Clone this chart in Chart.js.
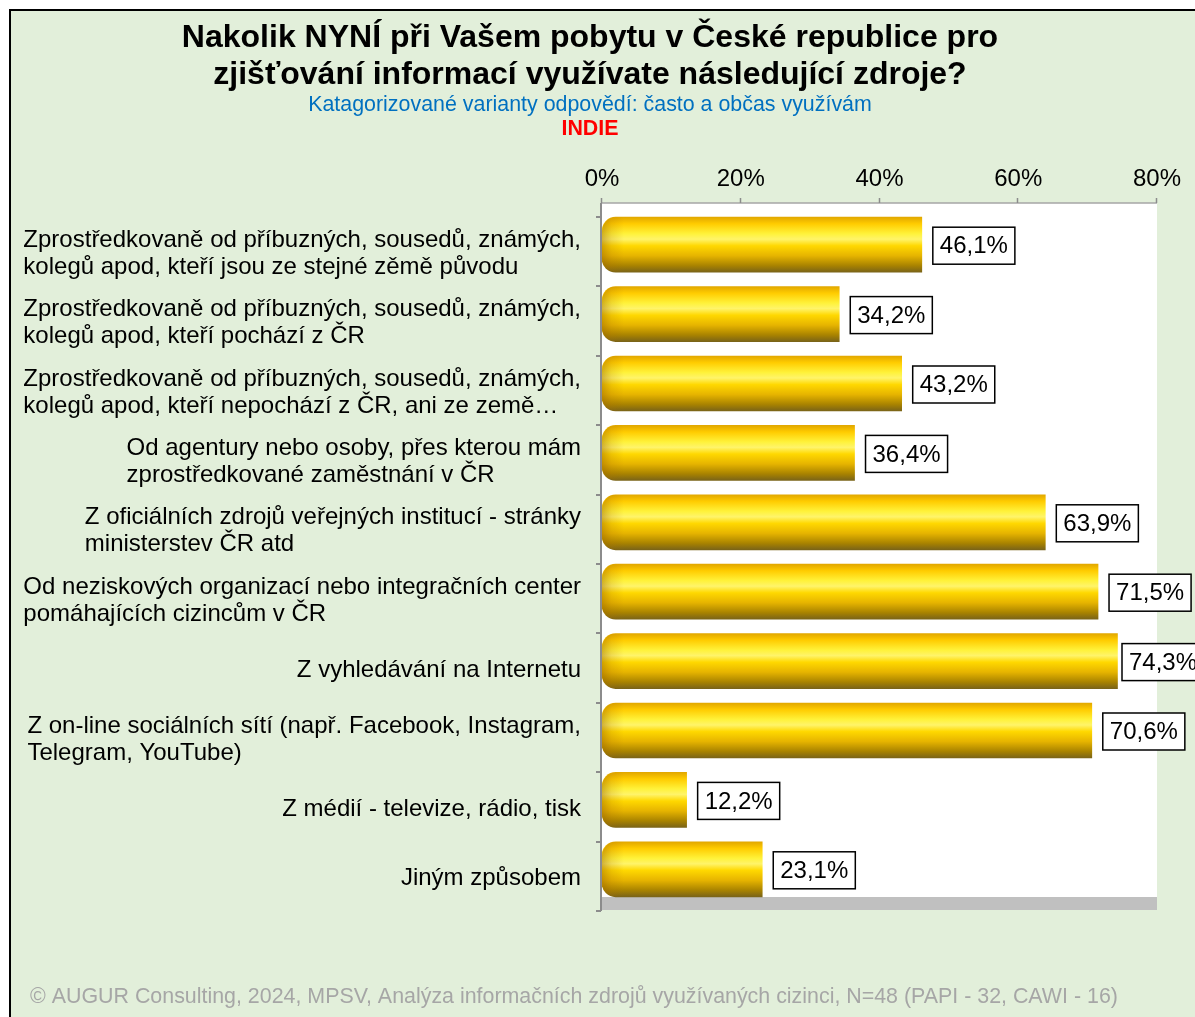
<!DOCTYPE html>
<html>
<head>
<meta charset="utf-8">
<script src="https://cdn.jsdelivr.net/npm/chart.js@4.4.1/dist/chart.umd.min.js"></script>
<style>
  html, body { margin: 0; padding: 0; background: #ffffff; }
  canvas { display: block; }
</style>
</head>
<body>
<canvas id="chart" width="1195" height="1017"></canvas>
<script>
// Source categories (wrapped into lines as printed on the axis)
const categories = [
  ["Zprostředkovaně od příbuzných, sousedů, známých,", "kolegů apod, kteří jsou ze stejné zěmě původu"],
  ["Zprostředkovaně od příbuzných, sousedů, známých,", "kolegů apod, kteří pochází z ČR"],
  ["Zprostředkovaně od příbuzných, sousedů, známých,", "kolegů apod, kteří nepochází z ČR, ani ze země…"],
  ["Od agentury nebo osoby, přes kterou mám", "zprostředkované zaměstnání v ČR"],
  ["Z oficiálních zdrojů veřejných institucí - stránky", "ministerstev ČR atd"],
  ["Od neziskových organizací nebo integračních center", "pomáhajících cizincům v ČR"],
  ["Z vyhledávání na Internetu"],
  ["Z on-line sociálních sítí (např. Facebook, Instagram,", "Telegram, YouTube)"],
  ["Z médií - televize, rádio, tisk"],
  ["Jiným způsobem"]
];

// Share of respondents using each source often or sometimes (%)
const values = [46.1, 34.2, 43.2, 36.4, 63.9, 71.5, 74.3, 70.6, 12.2, 23.1];

// Percentage axis
const tickValues = [0, 20, 40, 60, 80];
const tickLabels = ["0%", "20%", "40%", "60%", "80%"];

// Texts
const titleLines = [
  "Nakolik NYNÍ při Vašem pobytu v České republice pro",
  "zjišťování informací využívate následující zdroje?"
];
const subtitleText = "Katagorizované varianty odpovědí: často a občas využívám";
const countryText = "INDIE";
const footerText = "© AUGUR Consulting, 2024, MPSV, Analýza informačních zdrojů využívaných cizinci, N=48 (PAPI - 32, CAWI - 16)";

const FONT = "Arial, 'Liberation Sans', Helvetica, sans-serif";
const fmt = v => v.toFixed(1).replace('.', ',') + '%';

// Golden cylinder shading across the bar height
function barGradient(ctx, top, bottom) {
  const g = ctx.createLinearGradient(0, top, 0, bottom);
  g.addColorStop(0.00, '#E2A800');
  g.addColorStop(0.12, '#FFCC00');
  g.addColorStop(0.30, '#FFF23A');
  g.addColorStop(0.40, '#FFF46A');
  g.addColorStop(0.52, '#FFD800');
  g.addColorStop(0.70, '#E6B400');
  g.addColorStop(0.88, '#A98300');
  g.addColorStop(1.00, '#7A6418');
  return g;
}

// Frame, plot wall, floor and axis lines
const backdrop = {
  id: 'backdrop',
  beforeDraw(chart) {
    const { ctx, chartArea: a, scales } = chart;
    const W = chart.width, H = chart.height;
    ctx.save();
    ctx.fillStyle = '#ffffff';
    ctx.fillRect(0, 0, W, H);
    ctx.fillStyle = '#E2EFDA';
    ctx.fillRect(10, 10, W - 10, H - 10);
    ctx.strokeStyle = '#000000';
    ctx.lineWidth = 2;
    ctx.beginPath();
    ctx.moveTo(10, H);
    ctx.lineTo(10, 10);
    ctx.lineTo(W, 10);
    ctx.stroke();

    const x0 = scales.x.getPixelForValue(0);
    const x1 = scales.x.getPixelForValue(80);
    const wallTop = a.top - 7;
    const floorTop = a.bottom - 7;
    const floorBottom = a.bottom + 6;

    // white back wall
    ctx.fillStyle = '#ffffff';
    ctx.fillRect(x0, wallTop, x1 - x0, floorTop - wallTop);
    // grey floor
    ctx.fillStyle = '#C0C0C0';
    ctx.fillRect(x0, floorTop, x1 - x0, floorBottom - floorTop);

    // top value axis
    ctx.strokeStyle = '#A6A6A6';
    ctx.lineWidth = 1.5;
    ctx.beginPath();
    ctx.moveTo(x0 - 1, wallTop);
    ctx.lineTo(x1, wallTop);
    ctx.stroke();
    ctx.strokeStyle = '#8C8C8C';
    ctx.beginPath();
    tickValues.forEach(v => {
      const x = Math.round(scales.x.getPixelForValue(v)) - 0.5;
      ctx.moveTo(x, wallTop - 5);
      ctx.lineTo(x, wallTop);
    });
    ctx.stroke();
    ctx.fillStyle = '#000000';
    ctx.font = '24px ' + FONT;
    ctx.textAlign = 'center';
    ctx.textBaseline = 'middle';
    tickValues.forEach((v, i) => {
      ctx.fillText(tickLabels[i], scales.x.getPixelForValue(v), wallTop - 24);
    });

    // left category axis
    const step = (a.bottom - a.top) / categories.length;
    ctx.strokeStyle = '#8C8C8C';
    ctx.lineWidth = 2;
    ctx.beginPath();
    ctx.moveTo(x0 - 1, wallTop);
    ctx.lineTo(x0 - 1, floorBottom + 1);
    for (let k = 0; k <= categories.length; k++) {
      const y = Math.round(a.top + 7 + k * step);
      ctx.moveTo(x0 - 6, y);
      ctx.lineTo(x0 - 1, y);
    }
    ctx.stroke();
    ctx.restore();
  }
};

// Cylinder end caps, value boxes, category labels and headings
const overlay = {
  id: 'overlay',
  afterDatasetsDraw(chart) {
    const { ctx, scales } = chart;
    const meta = chart.getDatasetMeta(0);
    ctx.save();

    // rounded left cap shading
    meta.data.forEach(bar => {
      const { x, y, base, height } = bar.getProps(['x', 'y', 'base', 'height'], true);
      const top = y - height / 2;
      const g = ctx.createLinearGradient(base, 0, base + 22, 0);
      g.addColorStop(0, 'rgba(150,95,0,0.45)');
      g.addColorStop(0.45, 'rgba(170,110,0,0.18)');
      g.addColorStop(1, 'rgba(170,110,0,0)');
      ctx.save();
      ctx.beginPath();
      ctx.roundRect(base, top, Math.min(22, x - base), height, [14, 0, 0, 14]);
      ctx.clip();
      ctx.fillStyle = g;
      ctx.fillRect(base, top, 22, height);
      ctx.restore();
    });

    // value boxes
    ctx.font = '24px ' + FONT;
    ctx.textBaseline = 'middle';
    ctx.textAlign = 'left';
    meta.data.forEach((bar, i) => {
      const text = fmt(values[i]);
      const tw = ctx.measureText(text).width;
      const bw = tw + 14, bh = 37;
      let bx = bar.x + 11;
      bx = Math.min(bx, chart.width - 73);
      const by = bar.y - bh / 2 + 1;
      ctx.fillStyle = '#ffffff';
      ctx.fillRect(bx, by, bw, bh);
      ctx.strokeStyle = '#000000';
      ctx.lineWidth = 1.5;
      ctx.strokeRect(bx, by, bw, bh);
      ctx.fillStyle = '#000000';
      ctx.fillText(text, bx + 7, by + bh / 2 + 1);
    });

    // category labels: right-aligned block, left-aligned lines
    ctx.font = '24px ' + FONT;
    ctx.fillStyle = '#000000';
    const right = scales.x.getPixelForValue(0) - 21;
    const lh = 27;
    categories.forEach((lines, i) => {
      const w = Math.max(...lines.map(l => ctx.measureText(l).width));
      const left = right - w;
      const cy = scales.y.getPixelForValue(i) + 9;
      lines.forEach((l, j) => {
        ctx.fillText(l, left, cy + (j - (lines.length - 1) / 2) * lh);
      });
    });

    // headings
    const cx = 590;
    ctx.textAlign = 'center';
    ctx.font = 'bold 32px ' + FONT;
    ctx.fillText(titleLines[0], cx, 38);
    ctx.fillText(titleLines[1], cx, 75);
    ctx.font = '21.4px ' + FONT;
    ctx.fillStyle = '#0070C0';
    ctx.fillText(subtitleText, cx, 105);
    ctx.font = 'bold 21.4px ' + FONT;
    ctx.fillStyle = '#FF0000';
    ctx.fillText(countryText, cx, 129);

    // footer
    ctx.textAlign = 'left';
    ctx.font = '21.4px ' + FONT;
    ctx.fillStyle = '#A6A6A6';
    ctx.fillText(footerText, 30, 997);
    ctx.restore();
  }
};

new Chart(document.getElementById('chart'), {
  type: 'bar',
  data: {
    labels: categories,
    datasets: [{
      data: values,
      barThickness: 55,
      borderSkipped: false,
      borderRadius: { topLeft: 14, bottomLeft: 14, topRight: 0, bottomRight: 0 },
      backgroundColor: (c) => {
        const chart = c.chart;
        if (!chart.chartArea || c.dataIndex === undefined) return '#FFD700';
        const y = chart.scales.y.getPixelForValue(c.dataIndex);
        return barGradient(chart.ctx, y - 27.5, y + 27.5);
      }
    }]
  },
  options: {
    indexAxis: 'y',
    responsive: false,
    animation: false,
    devicePixelRatio: 1,
    layout: { padding: { left: 602, right: 38, top: 210, bottom: 113 } },
    scales: {
      x: { min: 0, max: 80, display: false },
      y: { display: false, offset: true }
    },
    plugins: {
      legend: { display: false },
      title: { display: false },
      tooltip: { enabled: false }
    }
  },
  plugins: [backdrop, overlay]
});
</script>
</body>
</html>
